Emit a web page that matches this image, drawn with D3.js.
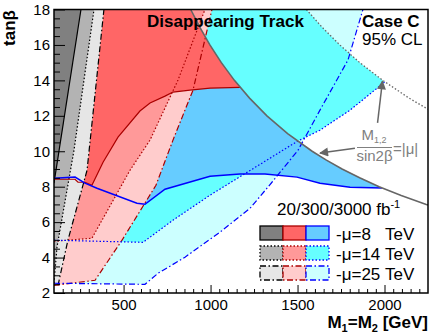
<!DOCTYPE html>
<html>
<head>
<meta charset="utf-8">
<script src="https://cdn.jsdelivr.net/npm/d3@7"></script>
<style>
  body { margin: 0; background: #fff; }
  svg { display: block; font-family: "Liberation Sans", Arial, sans-serif; }
</style>
</head>
<body>
<div id="chart"></div>
<script>
// Kinematic limit M_{1,2}/sin2b = |mu|, [M, tanb]
const kin8 = [[886, 18], [938, 17], [996, 16], [1062, 15], [1137, 14], [1224, 13], [1324, 12], [1443, 11],
  [1584, 10], [1666, 9.5], [1756, 9], [1857, 8.5], [1969, 8], [2096, 7.5], [2240, 7], [2250, 6.97]];
const kin14 = [[1551, 18], [1641, 17], [1743, 16], [1858, 15], [1990, 14], [2141, 13], [2250, 12.37]];

// Gray (wino) contours: 8 / 14 / 25 TeV
const gray8 = [[100, 8.2], [255, 18]];
const gray14 = [[100, 2.55], [117, 4.58], [215, 10.06], [330, 18]];
const gray25 = [[123, 2.43], [180, 4.98], [290, 8.93], [387, 18]];

// Red contours
const red8 = [[100, 8.42], [221, 8.42], [238, 8.25], [278, 8.25], [318, 8.08], [382, 9.38], [468, 10.8],
  [594, 12.27], [652, 12.72], [738, 13.11], [784, 13.34], [882, 13.45], [997, 13.56], [1170, 13.6]];
const red14 = [[100, 4.92], [318, 5.09], [537, 8.93], [652, 10.63], [813, 14.02], [968, 18]];
const red25 = [[100, 2.43], [336, 2.72], [491, 4.98], [686, 8.08], [784, 10.63], [899, 13.45], [1008, 18]];

// Blue contours
const blue8 = [[100, 8.48], [221, 8.54], [278, 8.2], [347, 7.91], [577, 7.07], [623, 7.01], [738, 7.86],
  [997, 8.59], [1169, 8.71], [1313, 8.71], [1497, 8.54], [1629, 8.2], [1802, 7.97], [1985, 7.93]];
const blue14 = [[100, 4.98], [612, 4.86], [784, 6.11], [997, 7.52], [1497, 10.55], [1629, 11.19],
  [1802, 12.32], [2000, 13.9]];
const blue25 = [[100, 2.55], [623, 2.49], [698, 3.11], [853, 4.02], [1054, 5.43], [1227, 6.78],
  [1353, 8.25], [1503, 10.06], [1629, 12.32], [1790, 15.15], [1876, 18]];

// Axis ticks
const xTicks = [500, 1000, 1500, 2000];
const yTicks = [2, 4, 6, 8, 10, 12, 14, 16, 18];
const legendRows = ['8', '14', '25'];

const width = 433;
const height = 335;
const svg = d3.select('#chart').append('svg').attr('width', width).attr('height', height);

const x = d3.scaleLinear().domain([100, 2250]).range([54, 428]);
const y = d3.scaleLinear().domain([2, 18]).range([293, 9.5]);

const defs = svg.append('defs');
defs.append('clipPath').attr('id', 'plot').append('rect')
  .attr('x', x.range()[0]).attr('y', y.range()[1])
  .attr('width', x.range()[1] - x.range()[0]).attr('height', y.range()[0] - y.range()[1]);

const area = svg.append('g').attr('clip-path', 'url(#plot)');
const line = d3.line().x((d) => x(d[0])).y((d) => y(d[1]));
const topLeft = [[100, 18]];

// Upper part of the kinematic curve above a given tanb, going upwards
const kinAbove = (kin, t) => kin.filter((d) => d[1] >= t).reverse();

const fills = [
  { pts: blue25.concat(topLeft), fill: '#ccffff' },
  { pts: blue14.concat(kinAbove(kin14, 14), topLeft), fill: '#66ffff' },
  { pts: blue8.concat(kinAbove(kin8, 8), topLeft), fill: '#66ccff' },
  { pts: red25.concat(topLeft), fill: '#ffcccc' },
  { pts: red14.concat(topLeft), fill: '#ff9999' },
  { pts: red8.concat(kinAbove(kin8, 14), topLeft), fill: '#ff6666' },
  { pts: gray25.concat(topLeft, [[100, 2.43]]), fill: '#e6e6e6' },
  { pts: gray14.concat(topLeft), fill: '#b3b3b3' },
  { pts: gray8.concat(topLeft), fill: '#808080' },
];
area.selectAll('.fill')
  .data(fills)
  .enter()
  .append('path')
  .attr('class', 'fill')
  .attr('d', (d) => line(d.pts) + 'Z')
  .attr('fill', (d) => d.fill);

const DOT = '1.5,2';
const DASHDOT = '6,2.5,1.5,2.5';
const lines = [
  { pts: gray25, color: '#000', dash: DASHDOT, w: 1.2 },
  { pts: gray14, color: '#000', dash: DOT, w: 1.2 },
  { pts: gray8, color: '#000', dash: null, w: 1.2 },
  { pts: red25, color: '#aa0000', dash: DASHDOT, w: 1.2 },
  { pts: red14, color: '#aa0000', dash: DOT, w: 1.2 },
  { pts: red8, color: '#aa0000', dash: null, w: 1.2 },
  { pts: blue25, color: '#0000ff', dash: DASHDOT, w: 1.2 },
  { pts: blue14, color: '#0000ff', dash: DOT, w: 1.2 },
  { pts: blue8, color: '#0000ff', dash: null, w: 1.5 },
  { pts: kin8, color: '#666', dash: null, w: 1.6 },
  { pts: kin14, color: '#666', dash: DOT, w: 1.3 },
];
area.selectAll('.contour')
  .data(lines)
  .enter()
  .append('path')
  .attr('class', 'contour')
  .attr('d', (d) => line(d.pts))
  .attr('fill', 'none')
  .attr('stroke', (d) => d.color)
  .attr('stroke-width', (d) => d.w)
  .attr('stroke-dasharray', (d) => d.dash);

// Axes with inward ticks
const xMinor = d3.range(150, 2250, 50).filter((v) => v % 500 !== 0);
const yMinor = d3.range(2.5, 18, 0.5).filter((v) => v % 2 !== 0);

svg.append('g').attr('transform', `translate(0,${y.range()[0]})`)
  .call(d3.axisBottom(x).tickValues(xTicks).tickFormat(d3.format('d')).tickSize(-8).tickPadding(6));
svg.append('g').attr('transform', `translate(0,${y.range()[0]})`)
  .call(d3.axisBottom(x).tickValues(xMinor).tickSize(-4).tickFormat(''));
svg.append('g').attr('transform', `translate(${x.range()[0]},0)`)
  .call(d3.axisLeft(y).tickValues(yTicks).tickFormat(d3.format('d')).tickSize(-11).tickPadding(4));
svg.append('g').attr('transform', `translate(${x.range()[0]},0)`)
  .call(d3.axisLeft(y).tickValues(yMinor).tickSize(-6).tickFormat(''));
svg.selectAll('.domain').remove();
svg.selectAll('.tick line').attr('stroke', '#000');
svg.selectAll('.tick text').attr('font-size', 15).attr('fill', '#000')
  .attr('font-family', '"Liberation Sans", Arial, sans-serif');

svg.append('rect')
  .attr('x', x.range()[0]).attr('y', y.range()[1])
  .attr('width', x.range()[1] - x.range()[0]).attr('height', y.range()[0] - y.range()[1])
  .attr('fill', 'none').attr('stroke', '#000').attr('stroke-width', 1.5);

// Axis titles
const xTitle = svg.append('text').attr('x', 428).attr('y', 328)
  .attr('text-anchor', 'end').attr('font-size', 17).attr('font-weight', 'bold');
xTitle.append('tspan').text('M');
xTitle.append('tspan').attr('font-size', 11).attr('dy', 4).text('1');
xTitle.append('tspan').attr('dy', -4).text('=M');
xTitle.append('tspan').attr('font-size', 11).attr('dy', 4).text('2');
xTitle.append('tspan').attr('dy', -4).text(' [GeV]');

svg.append('text').attr('transform', 'translate(15,10) rotate(-90)')
  .attr('text-anchor', 'end').attr('font-size', 17).attr('font-weight', 'bold').text('tanβ');

// Labels
svg.append('text').attr('x', 147).attr('y', 27).attr('font-size', 17).attr('font-weight', 'bold')
  .text('Disappearing Track');
svg.append('text').attr('x', 362).attr('y', 27).attr('font-size', 17).attr('font-weight', 'bold')
  .text('Case C');
svg.append('text').attr('x', 362).attr('y', 45).attr('font-size', 17).text('95% CL');

const lumi = svg.append('text').attr('x', 277).attr('y', 215).attr('font-size', 17);
lumi.append('tspan').text('20/300/3000 fb');
lumi.append('tspan').attr('font-size', 11).attr('dy', -7).text('-1');

// Kinematic limit annotation
const grayText = '#808080';
defs.append('marker')
  .attr('id', 'head').attr('viewBox', '0 0 10 10').attr('refX', 9).attr('refY', 5)
  .attr('markerWidth', 13).attr('markerHeight', 9).attr('markerUnits', 'userSpaceOnUse')
  .attr('orient', 'auto')
  .append('path').attr('d', 'M0,0 L10,5 L0,10 Z').attr('fill', '#666');
const arrows = [
  [[1960, 11.6], [1988, 13.95]],
  [[1830, 10.17], [1629, 9.9]],
];
svg.selectAll('.arrow')
  .data(arrows)
  .enter()
  .append('line')
  .attr('class', 'arrow')
  .attr('x1', (d) => x(d[0][0])).attr('y1', (d) => y(d[0][1]))
  .attr('x2', (d) => x(d[1][0])).attr('y2', (d) => y(d[1][1]))
  .attr('stroke', '#666').attr('stroke-width', 1.5)
  .attr('marker-end', 'url(#head)');

const num = svg.append('text').attr('x', 374).attr('y', 140).attr('text-anchor', 'middle')
  .attr('font-size', 15).attr('fill', grayText);
num.append('tspan').text('M');
num.append('tspan').attr('font-size', 9).attr('dy', 3).text('1,2');
svg.append('line').attr('x1', 357).attr('x2', 392).attr('y1', 147.5).attr('y2', 147.5)
  .attr('stroke', grayText).attr('stroke-width', 1);
svg.append('text').attr('x', 374.5).attr('y', 161).attr('text-anchor', 'middle')
  .attr('font-size', 15).attr('fill', grayText).text('sin2β');
svg.append('text').attr('x', 393).attr('y', 154).attr('font-size', 15).attr('fill', grayText)
  .text('=|μ|');

// Legend
const legendFills = [
  ['#808080', '#ff6666', '#66ccff'],
  ['#b3b3b3', '#ff9999', '#66ffff'],
  ['#e6e6e6', '#ffcccc', '#ccffff'],
];
const legendStroke = ['#000', '#aa0000', '#0000ff'];
const legendDash = [null, DOT, DASHDOT];
legendRows.forEach((mu, i) => {
  const g = svg.append('g').attr('transform', `translate(260,${226 + i * 20})`);
  legendFills[i].forEach((c, j) => {
    g.append('rect').attr('x', j * 23).attr('y', 0).attr('width', 23).attr('height', 14)
      .attr('fill', c).attr('stroke', legendStroke[j]).attr('stroke-width', 1.3)
      .attr('stroke-dasharray', legendDash[i]);
  });
  g.append('text').attr('x', 76).attr('y', 13.5).attr('font-size', 17).text(`-μ=${mu}`);
  g.append('text').attr('x', 125).attr('y', 13.5).attr('font-size', 17).text('TeV');
});
</script>
</body>
</html>
